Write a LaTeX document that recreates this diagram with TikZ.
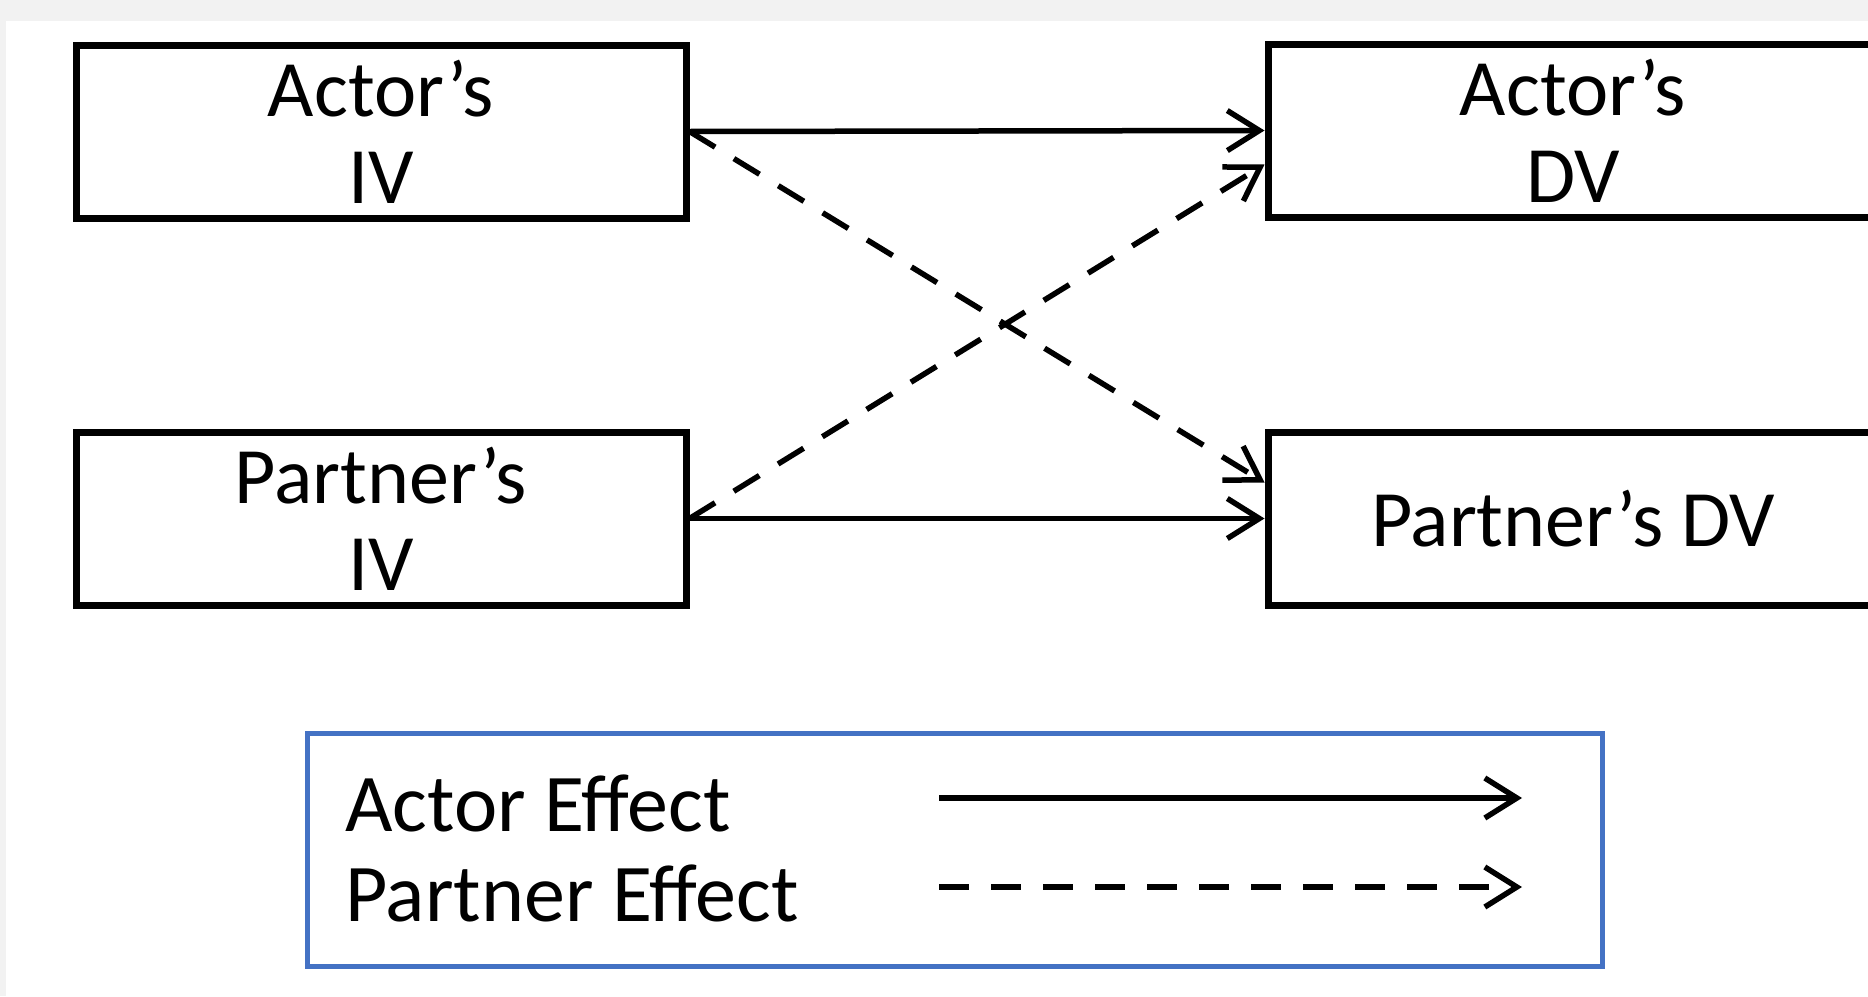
\documentclass[tikz,border=0pt]{standalone}
\usepackage{fontspec}
\setmainfont{Carlito}
\usetikzlibrary{arrows.meta}
\definecolor{bggray}{HTML}{F2F2F2}
\definecolor{legblue}{HTML}{4472C4}
\tikzset{
  varbox/.style={draw=black, line width=7pt, fill=white, minimum width=610pt, minimum height=173pt, align=center, inner sep=0pt,
    font=\fontsize{80pt}{87pt}\selectfont},
  effarrow/.style={line width=5.5pt, -{Straight Barb[length=32pt,width=40pt,line width=5.5pt]}},
  solidarrow/.style={effarrow},
  dasharrow/.style={effarrow, dash pattern=on 30pt off 22pt},
  legtext/.style={anchor=base west, inner sep=0pt, font=\fontsize{82pt}{87pt}\selectfont},
}
\begin{document}
\begin{tikzpicture}[x=1pt,y=-1pt]
\useasboundingbox (0,0) rectangle (1868,996);
\fill[bggray] (0,0) rectangle (1868,996);
\fill[white] (6,21) rectangle (1868,996);
\node[varbox] (aiv) at (381,131.5) {Actor’s\\IV};
\node[varbox] (adv) at (1573,130.5) {Actor’s\\DV};
\node[varbox] (piv) at (381,518.5) {Partner’s\\IV};
\node[varbox] (pdv) at (1573,518.5) {Partner’s DV};
\draw[solidarrow] (aiv.east) -- (adv.west);
\draw[solidarrow] (piv.east) -- (pdv.west);
\draw[dasharrow] (aiv.east) -- ([yshift=36pt]pdv.west);
\draw[dasharrow] (piv.east) -- ([yshift=-34pt]adv.west);
\node[draw=legblue, line width=5pt, minimum width=1295pt, minimum height=233pt, inner sep=0pt] (leg) at (954.5,849.5) {};
\node[legtext] (lac) at (345,831) {Actor Effect};
\node[legtext] (lpa) at (345,921) {Partner Effect};
\coordinate (l1s) at (939,798);
\coordinate (l1e) at (1522,798);
\coordinate (l2s) at (939,887);
\coordinate (l2e) at (1522,887);
\draw[solidarrow] (l1s) -- (l1e);
\draw[dasharrow] (l2s) -- (l2e);
\end{tikzpicture}
\end{document}
